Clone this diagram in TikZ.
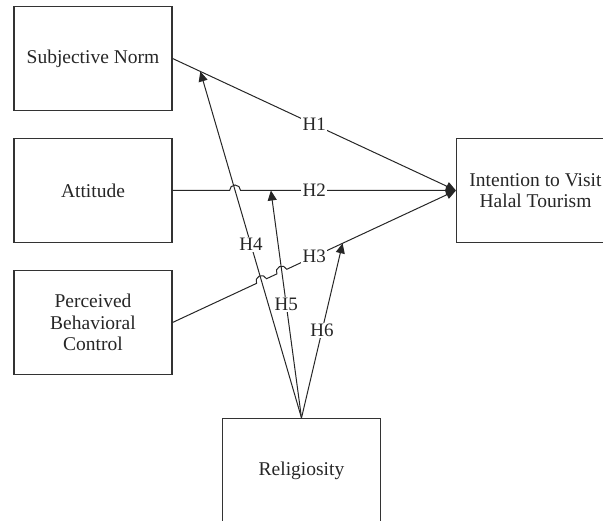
\documentclass[tikz,border=0pt]{standalone}
\usepackage{fontspec}
\newfontfamily\tnr{Liberation Serif}
\usetikzlibrary{arrows.meta,calc,intersections}
\begin{document}
\begin{tikzpicture}[x=1pt,y=1pt,
  box/.style={draw=black!80, line width=1.1pt, minimum width=158pt, minimum height=104pt, align=center, inner sep=0pt, font=\tnr\fontsize{19.5}{21.5}\selectfont, text=black!85},
  link/.style={draw=black!85, line width=1pt},
  arr/.style={link, -{Triangle[length=10pt,width=9pt]}},
  lab/.style={fill=white, inner sep=1.2pt, font=\tnr\fontsize{19}{20}\selectfont, text=black!85}]
\useasboundingbox (0,0) rectangle (603,521);
\node[box] (sn) at (93,462.5) {Subjective Norm};
\node[box] (att) at (93,330.5) {Attitude};
\node[box] (pbc) at (93,198.5) {Perceived\\Behavioral\\Control};
\node[box] (int) at (535.5,330.5) {Intention to Visit\\Halal Tourism};
\node[box] (rel) at (301.5,50.5) {Religiosity};
\coordinate (h4end) at ($(sn.east)!0.098!(int.west)$);
\coordinate (h5end) at ($(att.east)!0.347!(int.west)$);
\coordinate (h6end) at ($(pbc.east)!0.6!(int.west)$);
\path[name path=p4] (rel.north) -- (h4end);
\path[name path=p5] (rel.north) -- (h5end);
\path[name path=p2] (att.east) -- (int.west);
\path[name path=p3] (pbc.east) -- (int.west);
\path[name intersections={of=p2 and p4, by=x24}];
\path[name intersections={of=p3 and p4, by=x34}];
\path[name intersections={of=p3 and p5, by=x35}];
% H1
\draw[arr] (sn.east) -- (int.west);
% H2 with hop
\draw[arr] (att.east) -- ($(x24)+(-5.5pt,0)$) arc[start angle=180, end angle=0, radius=5.5pt] -- (int.west);
% H3 with hops
\draw[arr] let \p1=($(int.west)-(pbc.east)$), \n1={atan2(\y1,\x1)} in
  (pbc.east) -- ($(x34)!5.5pt!(pbc.east)$) arc[start angle=\n1+180, end angle=\n1, radius=5.5pt]
  -- ($(x35)!5.5pt!(pbc.east)$) arc[start angle=\n1+180, end angle=\n1, radius=5.5pt] -- (int.west);
% H4-H6
\draw[arr] (rel.north) -- (h4end);
\draw[arr] (rel.north) -- (h5end);
\draw[arr] (rel.north) -- (h6end);
% labels
\node[lab] (l1) at ($(sn.east)!0.5!(int.west)$) {H1};
\node[lab] (l2) at ($(att.east)!0.5!(int.west)$) {H2};
\node[lab] (l3) at ($(pbc.east)!0.5!(int.west)$) {H3};
\node[lab] (l4) at ($(rel.north)!0.5!(h4end)$) {H4};
\node[lab] (l5) at ($(rel.north)!0.5!(h5end)$) {H5};
\node[lab] (l6) at ($(rel.north)!0.5!(h6end)$) {H6};
\end{tikzpicture}
\end{document}
